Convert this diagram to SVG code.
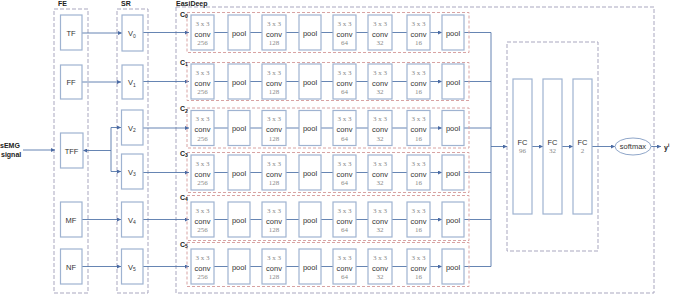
<svg xmlns="http://www.w3.org/2000/svg" width="675" height="294" viewBox="0 0 675 294">
<style>
.grp{fill:none;stroke:#a9a7bf;stroke-width:1;stroke-dasharray:4,2}
.red{fill:none;stroke:#d8a3a3;stroke-width:1;stroke-dasharray:3,2}
.box{fill:#fff;stroke:#9fb3d1;stroke-width:1.2}
.ln{fill:none;stroke:#5577aa;stroke-width:0.9}
.arr{fill:none;stroke:#5577aa;stroke-width:0.9;marker-end:url(#ah)}
.t{font-family:"Liberation Sans",Arial,sans-serif;font-size:7.5px;fill:#333;text-anchor:middle}
.s{font-family:"Liberation Serif","Times New Roman",serif;font-size:7px;fill:#8a8a8a;text-anchor:middle}
.b{font-family:"Liberation Sans",Arial,sans-serif;font-size:7px;font-weight:bold;fill:#222}
</style>
<defs>
<marker id="ah" markerUnits="userSpaceOnUse" markerWidth="4" markerHeight="4" refX="4" refY="2" orient="auto">
<path d="M0,0 L4,2 L0,4 z" fill="#4a6aa3"/>
</marker>
<g id="conv"><rect class="box" x="0" y="-17.5" width="23" height="35"/></g>
</defs>

<!-- group frames -->
<g id="frames">
<rect class="grp" x="54" y="9" width="34" height="284"/>
<rect class="grp" x="117" y="9" width="31" height="284"/>
<rect class="grp" x="176" y="7" width="478" height="286"/>
<rect class="grp" x="507" y="42" width="91" height="209"/>
<text class="b" x="58" y="6">FE</text>
<text class="b" x="121" y="6">SR</text>
<text class="b" x="176" y="6">EasiDeep</text>
</g>

<!-- connectors -->
<g id="connectors">
<path class="arr" d="M23,150 H55"/>
<path class="arr" d="M111,150.5 H83"/>
<path class="ln" d="M111,127.5 V171.5"/>
<path class="arr" d="M111,127.5 H121"/>
<path class="arr" d="M111,171.5 H121"/>
<path class="arr" d="M82,33 H122"/>
<path class="arr" d="M82,82 H121"/>
<path class="arr" d="M82,219.5 H121"/>
<path class="arr" d="M82,266.5 H121"/>
<path class="arr" d="M143,32.5 H189"/>
<path class="arr" d="M143,81.5 H189"/>
<path class="arr" d="M143,128 H189"/>
<path class="arr" d="M143,172.5 H189"/>
<path class="arr" d="M143,219.5 H189"/>
<path class="arr" d="M143,266.5 H189"/>
<g id="rowarrows">
<path class="arr" d="M214,32.5 H228 M250,32.5 H262 M286,32.5 H299 M321,32.5 H333 M356,32.5 H368 M392,32.5 H407 M430,32.5 H442"/>
<path class="arr" d="M214,81.5 H228 M250,81.5 H262 M286,81.5 H299 M321,81.5 H333 M356,81.5 H368 M392,81.5 H407 M430,81.5 H442"/>
<path class="arr" d="M214,128 H228 M250,128 H262 M286,128 H299 M321,128 H333 M356,128 H368 M392,128 H407 M430,128 H442"/>
<path class="arr" d="M214,172.5 H228 M250,172.5 H262 M286,172.5 H299 M321,172.5 H333 M356,172.5 H368 M392,172.5 H407 M430,172.5 H442"/>
<path class="arr" d="M214,219.5 H228 M250,219.5 H262 M286,219.5 H299 M321,219.5 H333 M356,219.5 H368 M392,219.5 H407 M430,219.5 H442"/>
<path class="arr" d="M214,266.5 H228 M250,266.5 H262 M286,266.5 H299 M321,266.5 H333 M356,266.5 H368 M392,266.5 H407 M430,266.5 H442"/>
</g>
<path class="ln" d="M464,32.5 H491 M464,81.5 H491 M464,128 H491 M464,172.5 H491 M464,219.5 H491 M464,266.5 H491 M491,32.5 V266.5"/>
<path class="arr" d="M491,146.5 H507"/>
<path class="arr" d="M532,146.5 H543"/>
<path class="arr" d="M562,146.5 H573"/>
<path class="arr" d="M592,146.5 H615"/>
<path class="arr" d="M651,146.5 H661"/>
</g>

<!-- input -->
<g id="input">
<text class="b" x="0" y="148">sEMG</text>
<text class="b" x="1" y="157">signal</text>
</g>

<!-- FE nodes -->
<g id="TF"><rect class="box" x="60.5" y="15" width="21.5" height="35"/><text class="t" x="71" y="35.5">TF</text></g>
<g id="FF"><rect class="box" x="60.5" y="65" width="21.5" height="34"/><text class="t" x="71" y="85">FF</text></g>
<g id="TFF"><rect class="box" x="60.5" y="133" width="22.5" height="35"/><text class="t" x="71.5" y="153.5">TFF</text></g>
<g id="MF"><rect class="box" x="60.5" y="202" width="21.5" height="35"/><text class="t" x="71" y="222.5">MF</text></g>
<g id="NF"><rect class="box" x="60.5" y="249" width="21.5" height="35"/><text class="t" x="71" y="269.5">NF</text></g>

<!-- SR nodes -->
<g id="V0"><rect class="box" x="122" y="15" width="21" height="36"/><text class="t" x="132" y="36">V<tspan font-size="5" dy="1.5">0</tspan></text></g>
<g id="V1"><rect class="box" x="122" y="65" width="21" height="34"/><text class="t" x="132" y="85">V<tspan font-size="5" dy="1.5">1</tspan></text></g>
<g id="V2"><rect class="box" x="121.5" y="110" width="21.5" height="35"/><text class="t" x="132" y="130.5">V<tspan font-size="5" dy="1.5">2</tspan></text></g>
<g id="V3"><rect class="box" x="121.5" y="154" width="21.5" height="35"/><text class="t" x="132" y="174.5">V<tspan font-size="5" dy="1.5">3</tspan></text></g>
<g id="V4"><rect class="box" x="121.5" y="202" width="21.5" height="35"/><text class="t" x="132" y="222.5">V<tspan font-size="5" dy="1.5">4</tspan></text></g>
<g id="V5"><rect class="box" x="121.5" y="249" width="21.5" height="35"/><text class="t" x="132" y="269.5">V<tspan font-size="5" dy="1.5">5</tspan></text></g>

<!-- CNN rows -->
<g id="C0" transform="translate(0,32.5)">
<rect class="red" x="187" y="-20" width="282" height="40"/>
<text class="b" x="180" y="-16">C<tspan font-size="5" dy="1.5">0</tspan></text>
<rect class="box" x="191" y="-17.5" width="23" height="35"/><text class="s" x="202.5" y="-7">3 x 3</text><text class="t" x="202.5" y="4">conv</text><text class="s" x="202.5" y="12.5">256</text>
<rect class="box" x="228" y="-17.5" width="22" height="35"/><text class="t" x="239" y="3">pool</text>
<rect class="box" x="262" y="-17.5" width="24" height="35"/><text class="s" x="274" y="-7">3 x 3</text><text class="t" x="274" y="4">conv</text><text class="s" x="274" y="12.5">128</text>
<rect class="box" x="299" y="-17.5" width="22" height="35"/><text class="t" x="310" y="3">pool</text>
<rect class="box" x="333" y="-17.5" width="23" height="35"/><text class="s" x="344.5" y="-7">3 x 3</text><text class="t" x="344.5" y="4">conv</text><text class="s" x="344.5" y="12.5">64</text>
<rect class="box" x="368" y="-17.5" width="24" height="35"/><text class="s" x="380" y="-7">3 x 3</text><text class="t" x="380" y="4">conv</text><text class="s" x="380" y="12.5">32</text>
<rect class="box" x="407" y="-17.5" width="23" height="35"/><text class="s" x="418.5" y="-7">3 x 3</text><text class="t" x="418.5" y="4">conv</text><text class="s" x="418.5" y="12.5">16</text>
<rect class="box" x="442" y="-17.5" width="22" height="35"/><text class="t" x="453" y="3">pool</text>
</g>
<g id="C1" transform="translate(0,81.5)">
<rect class="red" x="187" y="-19" width="282" height="38"/>
<text class="b" x="180" y="-17">C<tspan font-size="5" dy="1.5">1</tspan></text>
<rect class="box" x="191" y="-17.5" width="23" height="35"/><text class="s" x="202.5" y="-7">3 x 3</text><text class="t" x="202.5" y="4">conv</text><text class="s" x="202.5" y="12.5">256</text>
<rect class="box" x="228" y="-17.5" width="22" height="35"/><text class="t" x="239" y="3">pool</text>
<rect class="box" x="262" y="-17.5" width="24" height="35"/><text class="s" x="274" y="-7">3 x 3</text><text class="t" x="274" y="4">conv</text><text class="s" x="274" y="12.5">128</text>
<rect class="box" x="299" y="-17.5" width="22" height="35"/><text class="t" x="310" y="3">pool</text>
<rect class="box" x="333" y="-17.5" width="23" height="35"/><text class="s" x="344.5" y="-7">3 x 3</text><text class="t" x="344.5" y="4">conv</text><text class="s" x="344.5" y="12.5">64</text>
<rect class="box" x="368" y="-17.5" width="24" height="35"/><text class="s" x="380" y="-7">3 x 3</text><text class="t" x="380" y="4">conv</text><text class="s" x="380" y="12.5">32</text>
<rect class="box" x="407" y="-17.5" width="23" height="35"/><text class="s" x="418.5" y="-7">3 x 3</text><text class="t" x="418.5" y="4">conv</text><text class="s" x="418.5" y="12.5">16</text>
<rect class="box" x="442" y="-17.5" width="22" height="35"/><text class="t" x="453" y="3">pool</text>
</g>
<g id="C2" transform="translate(0,128)">
<rect class="red" x="187" y="-20" width="282" height="40"/>
<text class="b" x="180" y="-17">C<tspan font-size="5" dy="1.5">2</tspan></text>
<rect class="box" x="191" y="-17.5" width="23" height="35"/><text class="s" x="202.5" y="-7">3 x 3</text><text class="t" x="202.5" y="4">conv</text><text class="s" x="202.5" y="12.5">256</text>
<rect class="box" x="228" y="-17.5" width="22" height="35"/><text class="t" x="239" y="3">pool</text>
<rect class="box" x="262" y="-17.5" width="24" height="35"/><text class="s" x="274" y="-7">3 x 3</text><text class="t" x="274" y="4">conv</text><text class="s" x="274" y="12.5">128</text>
<rect class="box" x="299" y="-17.5" width="22" height="35"/><text class="t" x="310" y="3">pool</text>
<rect class="box" x="333" y="-17.5" width="23" height="35"/><text class="s" x="344.5" y="-7">3 x 3</text><text class="t" x="344.5" y="4">conv</text><text class="s" x="344.5" y="12.5">64</text>
<rect class="box" x="368" y="-17.5" width="24" height="35"/><text class="s" x="380" y="-7">3 x 3</text><text class="t" x="380" y="4">conv</text><text class="s" x="380" y="12.5">32</text>
<rect class="box" x="407" y="-17.5" width="23" height="35"/><text class="s" x="418.5" y="-7">3 x 3</text><text class="t" x="418.5" y="4">conv</text><text class="s" x="418.5" y="12.5">16</text>
<rect class="box" x="442" y="-17.5" width="22" height="35"/><text class="t" x="453" y="3">pool</text>
</g>
<g id="C3" transform="translate(0,172.5)">
<rect class="red" x="187" y="-20" width="282" height="40"/>
<text class="b" x="180" y="-17">C<tspan font-size="5" dy="1.5">3</tspan></text>
<rect class="box" x="191" y="-17.5" width="23" height="35"/><text class="s" x="202.5" y="-7">3 x 3</text><text class="t" x="202.5" y="4">conv</text><text class="s" x="202.5" y="12.5">256</text>
<rect class="box" x="228" y="-17.5" width="22" height="35"/><text class="t" x="239" y="3">pool</text>
<rect class="box" x="262" y="-17.5" width="24" height="35"/><text class="s" x="274" y="-7">3 x 3</text><text class="t" x="274" y="4">conv</text><text class="s" x="274" y="12.5">128</text>
<rect class="box" x="299" y="-17.5" width="22" height="35"/><text class="t" x="310" y="3">pool</text>
<rect class="box" x="333" y="-17.5" width="23" height="35"/><text class="s" x="344.5" y="-7">3 x 3</text><text class="t" x="344.5" y="4">conv</text><text class="s" x="344.5" y="12.5">64</text>
<rect class="box" x="368" y="-17.5" width="24" height="35"/><text class="s" x="380" y="-7">3 x 3</text><text class="t" x="380" y="4">conv</text><text class="s" x="380" y="12.5">32</text>
<rect class="box" x="407" y="-17.5" width="23" height="35"/><text class="s" x="418.5" y="-7">3 x 3</text><text class="t" x="418.5" y="4">conv</text><text class="s" x="418.5" y="12.5">16</text>
<rect class="box" x="442" y="-17.5" width="22" height="35"/><text class="t" x="453" y="3">pool</text>
</g>
<g id="C4" transform="translate(0,219.5)">
<rect class="red" x="187" y="-24" width="282" height="45"/>
<text class="b" x="180" y="-20">C<tspan font-size="5" dy="1.5">4</tspan></text>
<rect class="box" x="191" y="-17.5" width="23" height="35"/><text class="s" x="202.5" y="-7">3 x 3</text><text class="t" x="202.5" y="4">conv</text><text class="s" x="202.5" y="12.5">256</text>
<rect class="box" x="228" y="-17.5" width="22" height="35"/><text class="t" x="239" y="3">pool</text>
<rect class="box" x="262" y="-17.5" width="24" height="35"/><text class="s" x="274" y="-7">3 x 3</text><text class="t" x="274" y="4">conv</text><text class="s" x="274" y="12.5">128</text>
<rect class="box" x="299" y="-17.5" width="22" height="35"/><text class="t" x="310" y="3">pool</text>
<rect class="box" x="333" y="-17.5" width="23" height="35"/><text class="s" x="344.5" y="-7">3 x 3</text><text class="t" x="344.5" y="4">conv</text><text class="s" x="344.5" y="12.5">64</text>
<rect class="box" x="368" y="-17.5" width="24" height="35"/><text class="s" x="380" y="-7">3 x 3</text><text class="t" x="380" y="4">conv</text><text class="s" x="380" y="12.5">32</text>
<rect class="box" x="407" y="-17.5" width="23" height="35"/><text class="s" x="418.5" y="-7">3 x 3</text><text class="t" x="418.5" y="4">conv</text><text class="s" x="418.5" y="12.5">16</text>
<rect class="box" x="442" y="-17.5" width="22" height="35"/><text class="t" x="453" y="3">pool</text>
</g>
<g id="C5" transform="translate(0,266.5)">
<rect class="red" x="187" y="-24" width="282" height="44"/>
<text class="b" x="180" y="-20">C<tspan font-size="5" dy="1.5">5</tspan></text>
<rect class="box" x="191" y="-17.5" width="23" height="35"/><text class="s" x="202.5" y="-7">3 x 3</text><text class="t" x="202.5" y="4">conv</text><text class="s" x="202.5" y="12.5">256</text>
<rect class="box" x="228" y="-17.5" width="22" height="35"/><text class="t" x="239" y="3">pool</text>
<rect class="box" x="262" y="-17.5" width="24" height="35"/><text class="s" x="274" y="-7">3 x 3</text><text class="t" x="274" y="4">conv</text><text class="s" x="274" y="12.5">128</text>
<rect class="box" x="299" y="-17.5" width="22" height="35"/><text class="t" x="310" y="3">pool</text>
<rect class="box" x="333" y="-17.5" width="23" height="35"/><text class="s" x="344.5" y="-7">3 x 3</text><text class="t" x="344.5" y="4">conv</text><text class="s" x="344.5" y="12.5">64</text>
<rect class="box" x="368" y="-17.5" width="24" height="35"/><text class="s" x="380" y="-7">3 x 3</text><text class="t" x="380" y="4">conv</text><text class="s" x="380" y="12.5">32</text>
<rect class="box" x="407" y="-17.5" width="23" height="35"/><text class="s" x="418.5" y="-7">3 x 3</text><text class="t" x="418.5" y="4">conv</text><text class="s" x="418.5" y="12.5">16</text>
<rect class="box" x="442" y="-17.5" width="22" height="35"/><text class="t" x="453" y="3">pool</text>
</g>

<!-- FC layers -->
<g id="FC96"><rect class="box" x="513" y="79" width="19" height="135"/><text class="t" x="522.5" y="145">FC</text><text class="s" x="522.5" y="153">96</text></g>
<g id="FC32"><rect class="box" x="543" y="79" width="19" height="135"/><text class="t" x="552.5" y="145">FC</text><text class="s" x="552.5" y="153">32</text></g>
<g id="FC2"><rect class="box" x="573" y="79" width="19" height="135"/><text class="t" x="582.5" y="145">FC</text><text class="s" x="582.5" y="153">2</text></g>
<g id="softmax"><ellipse cx="633" cy="146.5" rx="18" ry="8.5" fill="#fff" stroke="#8fa6c9" stroke-width="1"/><text class="t" x="633" y="149" font-size="7">softmax</text></g>
<g id="output"><text class="b" x="664" y="150">y<tspan font-size="5" dy="-3">i</tspan></text></g>
</svg>
